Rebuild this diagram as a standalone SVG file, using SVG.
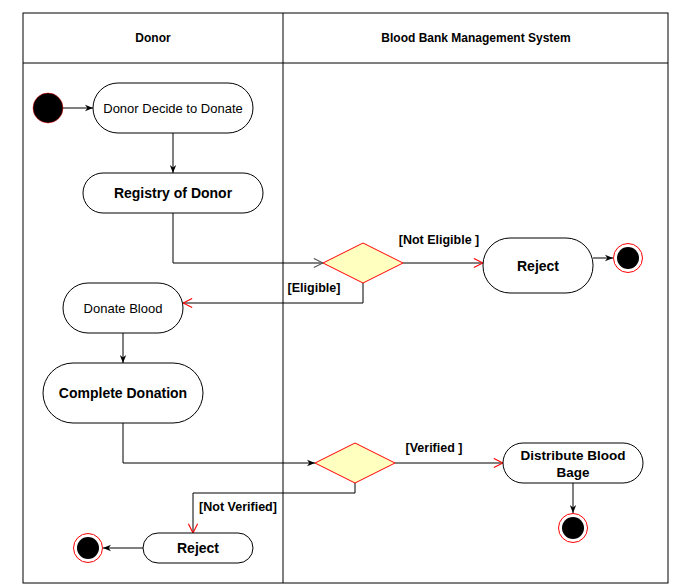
<svg xmlns="http://www.w3.org/2000/svg" width="682" height="585" viewBox="0 0 682 585">
<defs>
<style>
text{font-family:"Liberation Sans",Arial,sans-serif;fill:#000;text-anchor:middle;dominant-baseline:central}
.hdr{font-size:12px;font-weight:bold}
.act{fill:#fff;stroke:#000;stroke-width:1}
.n12{font-size:13px}
.b14{font-size:14px;font-weight:bold}
.lbl{font-size:12.5px;font-weight:bold}
.dec{fill:#ffffc0;stroke:#ff0000;stroke-width:1}
.edge{fill:none;stroke:#000;stroke-width:1}
</style>
<marker id="af" viewBox="0 0 10 10" refX="10" refY="5" markerWidth="8" markerHeight="8" markerUnits="userSpaceOnUse" orient="auto">
<path d="M0,1 L10,5 L0,9 L3,5 Z" fill="#000"/>
</marker>
<marker id="ao" viewBox="0 0 12 12" refX="11" refY="6" markerWidth="11" markerHeight="11" markerUnits="userSpaceOnUse" orient="auto">
<path d="M1,1 L11,6 L1,11" fill="none" stroke="#ff0000" stroke-width="1.2"/>
</marker>
<marker id="ag" viewBox="0 0 12 12" refX="11" refY="6" markerWidth="11" markerHeight="11" markerUnits="userSpaceOnUse" orient="auto">
<path d="M1,1 L11,6 L1,11" fill="none" stroke="#555" stroke-width="1.2"/>
</marker>
</defs>
<rect width="682" height="585" fill="#fff"/>
<g id="lanes">
<rect x="23" y="13" width="645" height="570" fill="none" stroke="#000"/>
<line x1="23" y1="63" x2="668" y2="63" stroke="#000"/>
<line x1="283" y1="13" x2="283" y2="583" stroke="#000"/>
<text class="hdr" x="153" y="38">Donor</text>
<text class="hdr" x="476" y="38">Blood Bank Management System</text>
</g>
<g id="connectors">
<line class="edge" x1="63" y1="108" x2="93" y2="108" marker-end="url(#af)"/>
<line class="edge" x1="173" y1="133" x2="173" y2="173" marker-end="url(#af)"/>
<polyline class="edge" points="173,213 173,263 323,263" marker-end="url(#ag)"/>
<line class="edge" x1="403" y1="263" x2="483" y2="263" marker-end="url(#ao)"/>
<line class="edge" x1="593" y1="258" x2="613" y2="258" marker-end="url(#af)"/>
<polyline class="edge" points="363,283 363,303 183,303" marker-end="url(#ao)"/>
<line class="edge" x1="123" y1="333" x2="123" y2="363" marker-end="url(#af)"/>
<polyline class="edge" points="123,423 123,463 315,463" marker-end="url(#af)"/>
<line class="edge" x1="395" y1="463" x2="503" y2="463" marker-end="url(#ao)"/>
<line class="edge" x1="573" y1="483" x2="573" y2="513" marker-end="url(#af)"/>
<polyline class="edge" points="355,483 355,493 193,493 193,533" marker-end="url(#ao)"/>
<line class="edge" x1="143" y1="548" x2="103" y2="548" marker-end="url(#af)"/>
<text class="lbl" x="439" y="240">[Not Eligible ]</text>
<text class="lbl" x="314" y="288">[Eligible]</text>
<text class="lbl" x="434" y="448">[Verified ]</text>
<text class="lbl" x="238" y="507">[Not Verified]</text>
</g>
<g id="start">
<circle cx="48" cy="108" r="15" fill="#000" stroke="#ff0000" stroke-width="0.5"/>
</g>
<g id="decide">
<rect class="act" x="93" y="83" width="160" height="50" rx="25"/>
<text class="n12" x="173" y="108">Donor Decide to Donate</text>
</g>
<g id="registry">
<rect class="act" x="83" y="173" width="180" height="40" rx="20"/>
<text class="b14" x="173" y="193">Registry of Donor</text>
</g>
<g id="decision1">
<polygon class="dec" points="363,243 403,263 363,283 323,263"/>
</g>
<g id="reject1">
<rect class="act" x="483" y="238" width="110" height="55" rx="27"/>
<text class="b14" x="538" y="266">Reject</text>
</g>
<g id="end1">
<circle cx="628" cy="258" r="14.5" fill="#fff" stroke="#ff0000" stroke-width="1"/>
<circle cx="628" cy="258" r="11" fill="#000"/>
</g>
<g id="donate">
<rect class="act" x="63" y="283" width="120" height="50" rx="25"/>
<text class="n12" x="123" y="308">Donate Blood</text>
</g>
<g id="complete">
<rect class="act" x="43" y="363" width="160" height="60" rx="30"/>
<text class="b14" x="123" y="393">Complete Donation</text>
</g>
<g id="decision2">
<polygon class="dec" points="355,443 395,463 355,483 315,463"/>
</g>
<g id="distribute">
<rect class="act" x="503" y="443" width="140" height="40" rx="20"/>
<text class="b14" style="font-size:13.5px" x="573" y="455">Distribute Blood</text>
<text class="b14" style="font-size:13.5px" x="573" y="472">Bage</text>
</g>
<g id="end2">
<circle cx="573" cy="528" r="14.5" fill="#fff" stroke="#ff0000" stroke-width="1"/>
<circle cx="573" cy="528" r="11" fill="#000"/>
</g>
<g id="reject2">
<rect class="act" x="143" y="533" width="110" height="30" rx="15"/>
<text class="b14" x="198" y="548">Reject</text>
</g>
<g id="end3">
<circle cx="88" cy="548" r="14.5" fill="#fff" stroke="#ff0000" stroke-width="1"/>
<circle cx="88" cy="548" r="11" fill="#000"/>
</g>
</svg>
